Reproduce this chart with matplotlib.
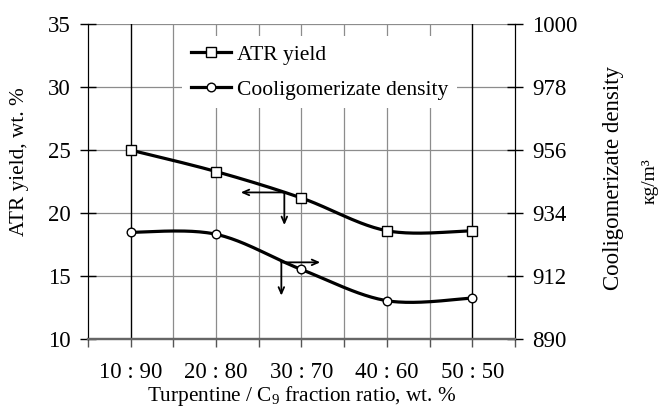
import numpy as np
import matplotlib
matplotlib.use("Agg")
import matplotlib.pyplot as plt
from matplotlib.lines import Line2D
from matplotlib.ticker import MultipleLocator

plt.rcParams['font.family'] = ['Liberation Serif', 'DejaVu Serif']
plt.rcParams['mathtext.fontset'] = 'custom'
plt.rcParams['mathtext.rm'] = 'Liberation Serif'

# data
ratios = ['10 : 90', '20 : 80', '30 : 70', '40 : 60', '50 : 50']
atr_yield = [25.0, 23.3, 21.2, 18.6, 18.6]          # wt. %
density = [927.3, 926.6, 914.3, 903.4, 904.3]       # kg/m3

left_ticks = [10, 15, 20, 25, 30, 35]
right_ticks = [890, 912, 934, 956, 978, 1000]


def smooth(xs, ys, n=40):
    """Excel-like smoothed line (cubic Bezier through every point)."""
    p = np.column_stack([xs, ys]).astype(float)
    out = []
    for i in range(len(p) - 1):
        p0 = p[i - 1] if i > 0 else p[i]
        p1, p2 = p[i], p[i + 1]
        p3 = p[i + 2] if i + 2 < len(p) else p[i + 1]
        c1 = p1 + (p2 - p0) / 6
        c2 = p2 - (p3 - p1) / 6
        t = np.linspace(0, 1, n)[:, None]
        seg = ((1 - t) ** 3) * p1 + 3 * ((1 - t) ** 2) * t * c1 \
            + 3 * (1 - t) * t ** 2 * c2 + t ** 3 * p2
        out.append(seg if i == 0 else seg[1:])
    s = np.vstack(out)
    return s[:, 0], s[:, 1]


x = np.arange(len(ratios))

fig = plt.figure(figsize=(6.61, 4.09), dpi=100)
ax = fig.add_axes([0.133, 0.171, 0.646, 0.770])
ax2 = ax.twinx()

grid_kw = dict(color='#8c8c8c', lw=0.9, zorder=0)

# grid
for v in left_ticks[1:]:
    ax.axhline(v, **grid_kw)
for v in np.arange(-0.5, len(ratios), 0.5)[1:-1]:
    if v in (x[0], x[-1]):
        ax.axvline(v, color='black', lw=1.0, zorder=0)
    else:
        ax.axvline(v, **grid_kw)

# curves
sx, sy = smooth(x, atr_yield)
ax.plot(sx, sy, color='black', lw=2.3, zorder=3)
ax.plot(x, atr_yield, ls='none', marker='s', ms=6.5, mfc='white',
        mec='black', mew=1.0, zorder=4)

dx, dy = smooth(x, density)
ax2.plot(dx, dy, color='black', lw=2.3, zorder=3)
ax2.plot(x, density, ls='none', marker='o', ms=6.2, mfc='white',
         mec='black', mew=1.0, zorder=4)

# axis-pointer arrows
arr = dict(arrowstyle='->,head_length=0.45,head_width=0.2', color='black',
           lw=1.3, shrinkA=0, shrinkB=0)
ax.annotate('', xy=(1.29, 21.64), xytext=(1.8, 21.64), arrowprops=arr)
ax.annotate('', xy=(1.8, 19.05), xytext=(1.8, 21.64), arrowprops=arr)
ax.annotate('', xy=(2.22, 16.09), xytext=(1.765, 16.09), arrowprops=arr)
ax.annotate('', xy=(1.765, 13.45), xytext=(1.765, 16.09), arrowprops=arr)

# axes ranges / ticks
ax.set_xlim(-0.5, len(ratios) - 0.5)
ax.set_ylim(left_ticks[0], left_ticks[-1])
ax.set_yticks(left_ticks)
ax2.set_ylim(right_ticks[0], right_ticks[-1])
ax2.set_yticks(right_ticks)
ax.set_xticks(x)
ax.set_xticklabels(ratios)
ax.xaxis.set_minor_locator(MultipleLocator(0.5))

ax.tick_params(axis='y', direction='inout', length=11, width=1.0,
               labelsize=16.5, pad=7)
ax2.tick_params(axis='y', direction='inout', length=11, width=1.0,
                labelsize=16.5, pad=7)
ax.tick_params(axis='x', which='both', direction='out', length=6,
               width=1.0, color='#555555', labelsize=16.5, pad=10.5)

for a in (ax, ax2):
    a.spines['top'].set_visible(False)
    a.spines['bottom'].set_color('#666666')
    a.spines['bottom'].set_linewidth(1.6)
    a.spines['left'].set_color('black')
    a.spines['right'].set_color('black')

ax.set_xlabel('Turpentine / C$_\\mathregular{9}$ fraction ratio, wt. %',
              fontsize=15.3, labelpad=1)
fig.text(20 / 661, 1 - 162 / 409, 'ATR yield, wt. %', fontsize=15.3,
         rotation=90, ha='center', va='center')
fig.text(613 / 661, 1 - 178 / 409, 'Cooligomerizate density', fontsize=16.5,
         rotation=90, ha='center', va='center')
fig.text(650 / 661, 1 - 181 / 409, 'кg/m³', fontsize=14,
         rotation=90, ha='center', va='center')

handles = [
    Line2D([], [], color='black', lw=2.3, marker='s', ms=6.5, mfc='white',
           mec='black', mew=1.0),
    Line2D([], [], color='black', lw=2.3, marker='o', ms=6.2, mfc='white',
           mec='black', mew=1.0),
]
leg = ax2.legend(handles, ['ATR yield', 'Cooligomerizate density'],
                 loc='upper left', bbox_to_anchor=(0.196, 0.996),
                 fontsize=15.5, frameon=True, fancybox=False, framealpha=1,
                 edgecolor='white', handlelength=1.85, handletextpad=0.3,
                 labelspacing=0.68, borderpad=0.4)
leg.get_frame().set_linewidth(0)

fig.savefig('out.png', dpi=100)
